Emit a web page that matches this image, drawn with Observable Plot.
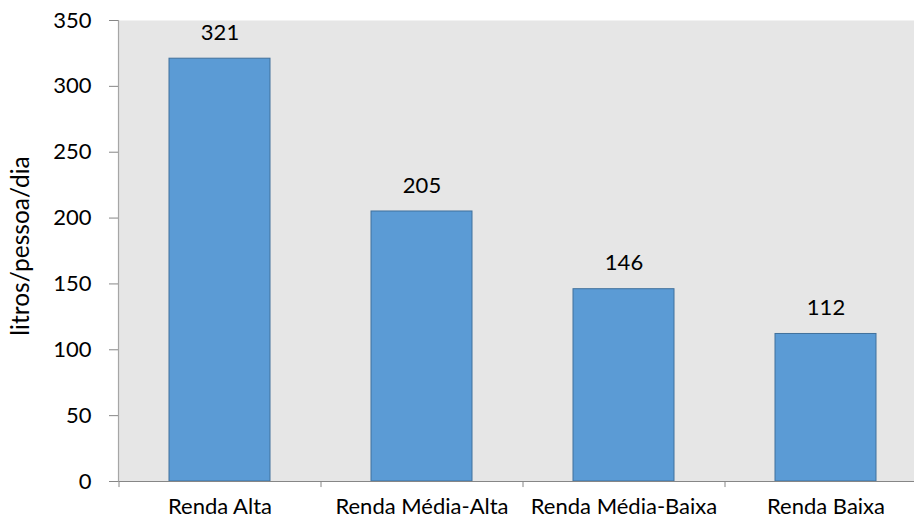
<!DOCTYPE html>
<html><head><meta charset="utf-8">
<script src="https://cdn.jsdelivr.net/npm/d3@7"></script>
<script src="https://cdn.jsdelivr.net/npm/@observablehq/plot@0.6"></script>
<style>
html,body{margin:0;padding:0;background:#fff;overflow:hidden;}
</style>
</head><body>
<div id="chart"></div>
<script>
const categories = ["Renda Alta", "Renda Média-Alta", "Renda Média-Baixa", "Renda Baixa"];
const values = [321, 205, 146, 112];
const yTicks = [0, 50, 100, 150, 200, 250, 300, 350];
const yLabel = "litros/pessoa/dia";

const data = categories.map((c, i) => ({cat: c, value: values[i]}));
const font = "Lato, 'Open Sans', sans-serif";

const chart = Plot.plot({
  width: 914,
  height: 520,
  marginTop: 20,
  marginBottom: 39,
  marginLeft: 118,
  marginRight: -12,
  style: {fontFamily: font, fontSize: "22px", color: "#000", background: "#fff"},
  x: {domain: categories, paddingInner: 0.5, paddingOuter: 0.25},
  y: {domain: [0, 350]},
  marks: [
    Plot.frame({fill: "#e6e6e6", stroke: null}),
    Plot.barY(data, {x: "cat", y: "value", fill: "#5b9bd5", stroke: "#41719c", strokeWidth: 1}),
    Plot.text(data, {x: "cat", y: "value", text: d => String(d.value), dy: -26, fontSize: 22, fill: "#000"}),
    Plot.ruleY([0], {stroke: "#868686", strokeWidth: 1.2}),
    Plot.frame({anchor: "left", stroke: "#a6a6a6", strokeWidth: 1.2}),
    Plot.ruleX(categories, {x: d => d, dx: -101, y1: 0, y2: -4.6, stroke: "#868686"}),
    Plot.axisY({ticks: yTicks, tickSize: 9, tickPadding: 18, stroke: "#868686", fontSize: 22, fill: "#000", label: null}),
    Plot.text([yLabel], {frameAnchor: "left", textAnchor: "middle", rotate: -90, dx: -97, dy: -5, fontSize: 24.5, fill: "#000"}),
    Plot.axisX({tickSize: 0, tickPadding: 17, fontSize: 22, fill: "#000", label: null})
  ]
});
document.getElementById("chart").appendChild(chart);
</script>
</body></html>
